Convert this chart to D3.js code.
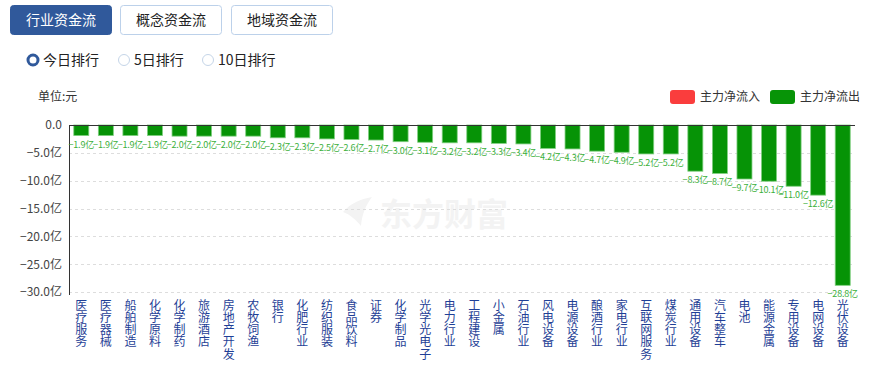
<!DOCTYPE html>
<html>
<head>
<meta charset="utf-8">
<script src="https://cdn.jsdelivr.net/npm/d3@7"></script>
<style>
    body { margin: 0; background: #fff; font-family: "Noto Sans CJK SC", "Noto Sans", sans-serif; }
    svg { display: block; }
</style>
</head>
<body>
<div id="chart"></div>
<script>
// industry names and main net outflow (亿元)
const categories = ["医疗服务", "医疗器械", "船舶制造", "化学原料", "化学制药", "旅游酒店", "房地产开发", "农牧饲渔",
    "银行", "化肥行业", "纺织服装", "食品饮料", "证券", "化学制品", "光学光电子", "电力行业",
    "工程建设", "小金属", "石油行业", "风电设备", "电源设备", "酿酒行业", "家电行业", "互联网服务",
    "煤炭行业", "通用设备", "汽车整车", "电池", "能源金属", "专用设备", "电网设备", "光伏设备"];
const values = [-1.9, -1.9, -1.9, -1.9, -2.0, -2.0, -2.0, -2.0,
    -2.3, -2.3, -2.5, -2.6, -2.7, -3.0, -3.1, -3.2,
    -3.2, -3.3, -3.4, -4.2, -4.3, -4.7, -4.9, -5.2,
    -5.2, -8.3, -8.7, -9.7, -10.1, -11.0, -12.6, -28.8];
const yTicks = [0, -5, -10, -15, -20, -25, -30];
const tabs = ["行业资金流", "概念资金流", "地域资金流"];
const radios = ["今日排行", "5日排行", "10日排行"];
const legendItems = [{ name: "主力净流入", color: "#fa3d3d" }, { name: "主力净流出", color: "#079407" }];

const width = 874;
const height = 366;
const marginLeft = 69;
const marginRight = 19;
const yTop = 125;
const yBottom = 292;

const svg = d3.select("#chart").append("svg")
    .attr("width", width)
    .attr("height", height);

// tabs
const tabX = [10, 120, 231];
const tab = svg.append("g").selectAll("g")
    .data(tabs)
    .enter()
    .append("g")
    .attr("transform", (d, i) => `translate(${tabX[i]},5)`);

tab.append("rect")
    .attr("x", 0.5).attr("y", 0.5)
    .attr("width", 101).attr("height", 29)
    .attr("rx", 3)
    .attr("fill", (d, i) => i === 0 ? "#30599b" : "#fff")
    .attr("stroke", (d, i) => i === 0 ? "#30599b" : "#bcd1ea");

tab.append("text")
    .attr("x", 51).attr("y", 20)
    .attr("text-anchor", "middle")
    .attr("font-size", 14)
    .attr("fill", (d, i) => i === 0 ? "#fff" : "#222")
    .text((d) => d);

// radio buttons
const radioX = [33, 124, 208];
const radio = svg.append("g").selectAll("g")
    .data(radios)
    .enter()
    .append("g")
    .attr("transform", (d, i) => `translate(${radioX[i]},60)`);

radio.append("circle")
    .attr("r", (d, i) => i === 0 ? 5 : 5.5)
    .attr("fill", "#fff")
    .attr("stroke", (d, i) => i === 0 ? "#30599b" : "#c5d5e8")
    .attr("stroke-width", (d, i) => i === 0 ? 3 : 1);

radio.append("text")
    .attr("x", 10).attr("y", 5)
    .attr("font-size", 14)
    .attr("fill", "#222")
    .text((d) => d);

// unit
svg.append("text")
    .attr("x", 38).attr("y", 101)
    .attr("font-size", 12)
    .attr("fill", "#333")
    .text("单位:元");

// legend
const legend = svg.append("g").selectAll("g")
    .data(legendItems)
    .enter()
    .append("g")
    .attr("transform", (d, i) => `translate(${670 + i * 100},90)`);

legend.append("rect")
    .attr("width", 25).attr("height", 14)
    .attr("rx", 3)
    .attr("fill", (d) => d.color);

legend.append("text")
    .attr("x", 30).attr("y", 11)
    .attr("font-size", 12)
    .attr("fill", "#333")
    .text((d) => d.name);

// watermark
const wm = svg.append("g").attr("fill", "#f3f3f3");
wm.append("path")
    .attr("d", "M343,212 C350,204 360,199 372,197 C366,205 362,214 361,226 C356,220 351,215 343,212 Z");
wm.append("text")
    .attr("x", 380).attr("y", 226)
    .attr("font-size", 32)
    .attr("font-weight", "bold")
    .text("东方财富");

// scales
const x = d3.scaleBand()
    .domain(categories)
    .range([marginLeft, width - marginRight]);

const y = d3.scaleLinear()
    .domain([0, -30])
    .range([yTop, yBottom]);

const barWidth = 15;

// grid lines
svg.append("g")
    .selectAll("line")
    .data(yTicks.filter((d) => d !== 0))
    .enter()
    .append("line")
    .attr("x1", marginLeft)
    .attr("x2", width - marginRight)
    .attr("y1", (d) => Math.round(y(d)) + 0.5)
    .attr("y2", (d) => Math.round(y(d)) + 0.5)
    .attr("stroke", "#ddd")
    .attr("stroke-dasharray", "3,3");

// y axis
svg.append("g")
    .attr("transform", `translate(${marginLeft},0)`)
    .call(d3.axisLeft(y).tickValues(yTicks).tickSize(0).tickPadding(7)
        .tickFormat((d) => d === 0 ? "0.0" : d3.format(".1f")(d) + "亿"))
    .call((g) => g.select(".domain").remove())
    .call((g) => g.selectAll("text")
        .attr("font-size", 12)
        .attr("font-family", "Noto Sans CJK SC")
        .attr("fill", "#444"));

svg.append("line")
    .attr("x1", marginLeft + 0.5).attr("x2", marginLeft + 0.5)
    .attr("y1", yTop).attr("y2", yBottom + 3)
    .attr("stroke", "#333");

// bars
const bar = svg.append("g")
    .selectAll("g")
    .data(categories.map((c, i) => ({ name: c, value: values[i] })))
    .enter()
    .append("g");

bar.append("rect")
    .attr("x", (d) => x(d.name) + x.bandwidth() / 2 - barWidth / 2)
    .attr("y", y(0))
    .attr("width", barWidth)
    .attr("height", (d) => y(d.value) - y(0))
    .attr("fill", "#069306")
    .attr("stroke", "#7fcf7f")
    .attr("stroke-width", 0.8);

bar.append("text")
    .attr("x", (d) => x(d.name) + x.bandwidth() / 2)
    .attr("y", (d) => y(d.value) + 12)
    .attr("text-anchor", "middle")
    .attr("font-size", 9)
    .attr("letter-spacing", -0.2)
    .attr("fill", "#3bb03b")
    .text((d) => d3.format(".1f")(d.value) + "亿");

// x axis line at zero
svg.append("line")
    .attr("x1", marginLeft).attr("x2", width - marginRight)
    .attr("y1", yTop + 0.5).attr("y2", yTop + 0.5)
    .attr("stroke", "#333");

// vertical category labels
svg.append("g")
    .selectAll("text")
    .data(categories)
    .enter()
    .append("text")
    .attr("x", (d) => x(d) + x.bandwidth() / 2)
    .attr("y", 299)
    .attr("writing-mode", "vertical-rl")
    .attr("letter-spacing", 0.3)
    .attr("font-size", 12)
    .attr("fill", "#1f3f96")
    .text((d) => d);
</script>
</body>
</html>
